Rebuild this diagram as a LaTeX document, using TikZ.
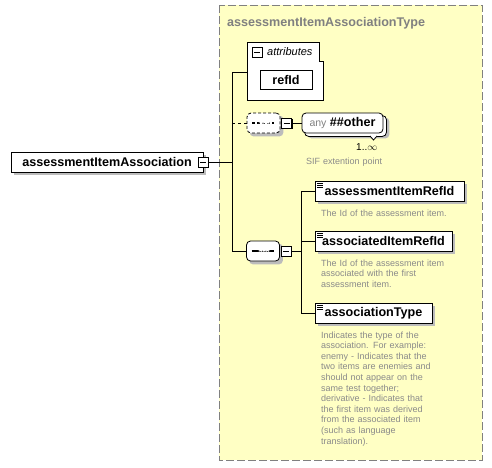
\documentclass[tikz,border=0pt]{standalone}
\usepackage{fontspec}
\setmainfont{Liberation Sans}
\usetikzlibrary{backgrounds}

\definecolor{typebg}{RGB}{255,255,196}
\definecolor{typeframe}{RGB}{128,128,128}
\definecolor{doctext}{RGB}{138,138,138}
\definecolor{shadowgray}{RGB}{188,188,188}
\newcommand\namefont{\fontsize{12.6}{15}\selectfont\bfseries}
\newcommand\docfont{\fontsize{9}{10.6}\selectfont}

\tikzset{
    namebox/.style={draw, fill=white, line width=0.8pt, font=\namefont, inner sep=0pt, minimum height=20pt},
    elembox/.style={namebox, path picture={
        \foreach \k in {2,4,6}
            \draw[line width=0.7pt] ([shift={(2,\k)}]path picture bounding box.north west) -- ++(6,0);
    }},
    minusbox/.style={draw, fill=white, line width=0.8pt, minimum size=10pt, inner sep=0pt,
        path picture={\draw ([xshift=2pt]path picture bounding box.west) -- ([xshift=-2pt]path picture bounding box.east);}},
    seqbox/.style={draw, fill=white, line width=0.8pt, rounded corners=4pt,
        minimum width=33pt, minimum height=20pt, inner sep=0pt,
        path picture={
            \draw[line width=1.4pt] ([xshift=5pt]path picture bounding box.west) -- ([xshift=-6pt]path picture bounding box.east);
            \foreach \d in {-3.3,0,3.3}
                \fill ([xshift=\d pt]path picture bounding box.center) rectangle ++(2.2,-2.2);
        }},
    doc/.style={font=\docfont, text=doctext, inner sep=0pt, anchor=base west, text width=170pt, align=left}
}

\begin{document}
\begin{tikzpicture}[x=1pt, y=-1pt]
    \useasboundingbox (0,0) rectangle (492,467);

    % the complex type
    \begin{scope}[on background layer]
    \draw[fill=typebg, draw=typeframe, line width=1pt, dash pattern=on 8pt off 3pt] (219,5) rectangle (482,460);
    \end{scope}
    \node[font=\namefont, text=typeframe, anchor=base west, inner sep=0pt] (typename) at (227,26) {assessmentItemAssociationType};

    \node[namebox, minimum width=192pt] (main) at (107,162) {assessmentItemAssociation};
    \node[minusbox] (mainminus) at (203,162) {};
    \coordinate (j0) at (232,162);

    % attributes
    \draw[fill=white, line width=0.8pt] (247,42) -- (319,42) -- (319,61) -- (323,61) -- (323,100) -- (247,100) -- cycle;
    \coordinate (attrin) at (247,72);
    \node[minusbox] (attrminus) at (257,52) {};
    \node[font=\fontsize{11}{13}\selectfont\itshape, anchor=base west, inner sep=0pt] (attrlabel) at (267,55) {attributes};
    \node[namebox, minimum width=52pt, minimum height=19pt] (refid) at (286,79.5) {refId};

    % any ##other
    \node[seqbox, dash pattern=on 3pt off 2pt] (anyseq) at (263.5,123) {};
    \node[minusbox] (anyseqminus) at (286.5,123) {};
    \node[draw, fill=white, line width=0.8pt, rounded corners=4pt,
        minimum width=81pt, minimum height=20pt, inner sep=0pt, font=\namefont]
        (anyother) at (342.5,123) {{\fontsize{10.5}{12}\mdseries\color{typeframe}any} \#\#other};
    \node[font=\fontsize{10}{12}\selectfont, anchor=base west, inner sep=0pt] (anyocc) at (356,150) {1..$\infty$};
    \node[doc, text width=120pt] (anydoc) at (306,164) {SIF extention point};

    % sequence of elements
    \node[seqbox] (extseq) at (263,251) {};
    \node[minusbox] (seqminus) at (286,251) {};
    \coordinate (j2) at (301,251);

    \node[elembox, minimum width=149pt] (itemref) at (389.5,191) {assessmentItemRefId};
    \node[doc] (itemrefdoc) at (321,216) {The Id of the assessment item.};
    \node[elembox, minimum width=137pt] (assocref) at (383.5,241) {associatedItemRefId};
    \node[doc] (assocrefdoc) at (321,266) {The Id of the assessment item\\ associated with the first\\ assessment item.};
    \node[elembox, minimum width=117pt] (assoctype) at (373.5,313) {associationType};
    \node[doc] (assoctypedoc) at (321,338) {Indicates the type of the\\ association. For example:\\ enemy - Indicates that the\\ two items are enemies and\\ should not appear on the\\ same test together;\\ derivative - Indicates that\\ the first item was derived\\ from the associated item\\ (such as language\\ translation).};

    % shadows
    \begin{scope}[on background layer]
    \foreach \n in {main,refid,itemref,assocref,assoctype}
        \fill[shadowgray] ([shift={(3,3)}]\n.north west) rectangle ([shift={(3,3)}]\n.south east);
    \foreach \n in {anyseq,extseq}
        \fill[shadowgray, rounded corners=4pt] ([shift={(3,3)}]\n.north west) rectangle ([shift={(3,3)}]\n.south east);
    \foreach \n in {mainminus,attrminus,anyseqminus,seqminus}
        \fill ([shift={(1,1)}]\n.north west) rectangle ([shift={(1,1)}]\n.south east);
    \fill[shadowgray, rounded corners=4pt] ([shift={(6,5)}]anyother.north west) rectangle ([shift={(6,5)}]anyother.south east);
    \draw[fill=white, line width=0.8pt, rounded corners=4pt] ([shift={(3,3)}]anyother.north west) rectangle ([shift={(3,3)}]anyother.south east);
    \end{scope}
    \draw[fill=white, line width=0.8pt] (370,136) -- (373.5,140) -- (377,136);

    % connectors
    \begin{scope}[line width=0.8pt]
    \draw (mainminus) -- (j0);
    \draw (j0) |- (attrin);
    \draw (j0) |- (extseq.west);
    \draw[dashed] (anyseq.west) -- (anyseq.west -| j0);
    \draw (anyseqminus) -- (anyother);
    \draw (seqminus) -- (j2);
    \draw (j2) |- (itemref.west);
    \draw (j2) |- (assocref.west);
    \draw (j2) |- (assoctype.west);
    \end{scope}
\end{tikzpicture}
\end{document}
